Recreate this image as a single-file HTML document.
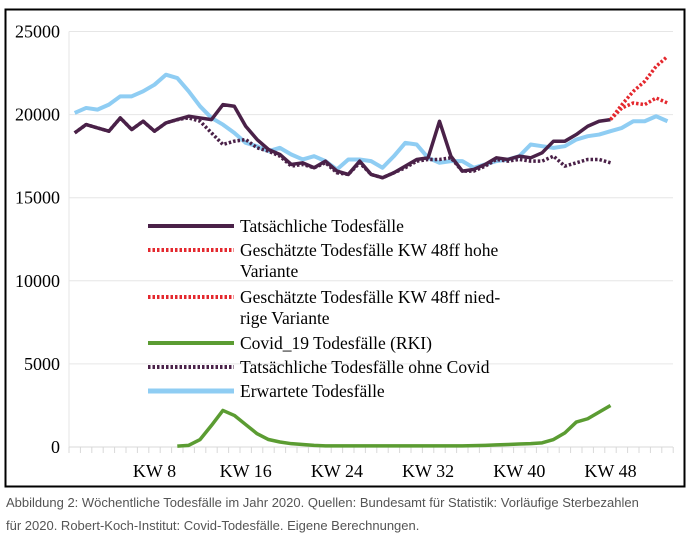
<!DOCTYPE html>
<html><head><meta charset="utf-8"><style>
body{margin:0;background:#fff;width:692px;height:537px;overflow:hidden}
svg{position:absolute;left:0;top:0}
.cap{position:absolute;left:6px;top:491px;font:13px "Liberation Sans",sans-serif;color:#555;line-height:23px;width:676px}
</style></head><body>
<svg id="chart" width="692" height="490">
<rect x="5.5" y="9.5" width="679" height="477" fill="#fff" stroke="#000" stroke-width="2"/>
<g id="grid"></g><g id="series"></g><g id="legend"></g>
</svg>
<div class="cap">Abbildung 2: Wöchentliche Todesfälle im Jahr 2020. Quellen: Bundesamt für Statistik: Vorläufige Sterbezahlen<br>für 2020. Robert-Koch-Institut: Covid-Todesfälle. Eigene Berechnungen.</div>
<script>
const yTicks=[0,5000,10000,15000,20000,25000];
const xLabels=["KW 8","KW 16","KW 24","KW 32","KW 40","KW 48"];
const xLabelWeeks=[8,16,24,32,40,48];
const actual=[18900,19400,19200,19000,19800,19100,19600,19000,19500,19700,19900,19800,19700,20600,20500,19300,18500,17900,17600,17000,17100,16800,17200,16600,16400,17200,16400,16200,16500,16900,17300,17400,19600,17500,16600,16700,17000,17400,17300,17500,17400,17700,18400,18400,18800,19300,19600,19700];
const covid=[0,0,0,0,0,0,0,0,0,50,100,450,1300,2200,1900,1350,800,450,300,200,150,100,70,70,70,70,70,70,70,70,70,70,70,70,70,80,100,130,150,180,200,250,450,850,1500,1700,2100,2500];
const withoutCovid=[18900,19400,19200,19000,19800,19100,19600,19000,19500,19700,19800,19600,18900,18200,18400,18500,18000,17800,17500,16900,17000,16800,17100,16500,16400,17100,16400,16200,16500,16800,17200,17300,17300,17400,16600,16600,16900,17300,17200,17300,17200,17200,17500,16900,17100,17300,17300,17100];
const expected=[20100,20400,20300,20600,21100,21100,21400,21800,22400,22200,21400,20500,19800,19400,18900,18300,18100,17800,18000,17600,17300,17500,17200,16700,17300,17300,17200,16800,17500,18300,18200,17400,17100,17200,17200,16800,17000,17200,17300,17500,18200,18100,18000,18100,18500,18700,18800,19000,19200,19600,19600,19900,19600];
const highWeeks=[48,49,50,51,52,53];
const estHigh=[19700,20600,21400,22000,22900,23500];
const estLow=[19700,20400,20700,20600,21000,20700];

const NS="http://www.w3.org/2000/svg";
const X0=69,BW=11.4,Y0=447,PX=83.1/5000;
const xs=w=>X0+(w-0.5)*BW, ys=v=>Y0-v*PX;
function mk(tag,attrs,parent){const e=document.createElementNS(NS,tag);for(const k in attrs)e.setAttribute(k,attrs[k]);parent.appendChild(e);return e;}
const grid=document.getElementById('grid'),ser=document.getElementById('series'),leg=document.getElementById('legend');
mk('line',{x1:X0,y1:ys(25000),x2:X0,y2:Y0,stroke:'#e6e6e6'},grid);
yTicks.forEach(t=>{
 if(t>0){const l=mk('line',{x1:X0,x2:673,y1:ys(t),y2:ys(t),stroke:'#e6e6e6'},grid);
 
 }
 const tx=mk('text',{x:60,y:ys(t)+6,'text-anchor':'end','font-family':'Liberation Serif, serif','font-size':'18'},grid);
 tx.textContent=t;
 
 
});
mk('line',{x1:X0,x2:673,y1:Y0,y2:Y0,stroke:'#d8d8d8'},grid);
for(let w=0;w<=53;w++){mk('line',{x1:X0+w*BW,x2:X0+w*BW,y1:Y0,y2:Y0+6,stroke:'#d8d8d8'},grid);}
xLabels.forEach((s,i)=>{
 const tx=mk('text',{x:xs(xLabelWeeks[i]),y:477,'text-anchor':'middle','font-family':'Liberation Serif, serif','font-size':'18'},grid);
 tx.textContent=s;
 
 
});
function line(vals,startW,color,width,dash,name){
 const pts=vals.map((v,i)=>[startW+i,v]).filter(p=>p[1]!==null&&p[1]>0);
 const p=mk('polyline',{points:pts.map(q=>xs(q[0])+','+ys(q[1])).join(' '),fill:'none',stroke:color,'stroke-width':width,'stroke-linejoin':'round'},ser);
 if(dash)p.setAttribute('stroke-dasharray',dash);
 
 
}
line(expected,1,'#8fcdf3',4,null,'expected-deaths-line');
line(withoutCovid,1,'#4a2148',3.5,'2.5 2','deaths-without-covid-line');
line(actual,1,'#4a2148',3.5,null,'actual-deaths-line');
line(covid.map((v,i)=>i>=9?Math.max(v,1):0),1,'#5b9c32',3.5,null,'covid-deaths-line');
line(estLow,highWeeks[0],'#e4282e',3.5,'2.5 2','estimated-low-line');
line(estHigh,highWeeks[0],'#e4282e',3.5,'2.5 2','estimated-high-line');
const L=[["Tatsächliche Todesfälle",'#4a2148',null,226],
["Geschätzte Todesfälle KW 48ff hohe|Variante",'#e4282e','2.5 2',250],
["Geschätzte Todesfälle KW 48ff nied-|rige Variante",'#e4282e','2.5 2',297],
["Covid_19 Todesfälle (RKI)",'#5b9c32',null,343],
["Tatsächliche Todesfälle ohne Covid",'#4a2148','2.5 2',367],
["Erwartete Todesfälle",'#8fcdf3',null,391]];
L.forEach((e,i)=>{
 const g=mk('g',{},leg);
 
 
 const l=mk('line',{x1:148,x2:234,y1:e[3],y2:e[3],stroke:e[1],'stroke-width':i==5?5:4},g);
 if(e[2])l.setAttribute('stroke-dasharray',e[2]);
 e[0].split('|').forEach((s,j)=>{
  const t=mk('text',{x:240,y:e[3]+6+j*21,'font-family':'Liberation Serif, serif','font-size':'17.5'},g);
  t.textContent=s;
 });
});
</script>
</body></html>
